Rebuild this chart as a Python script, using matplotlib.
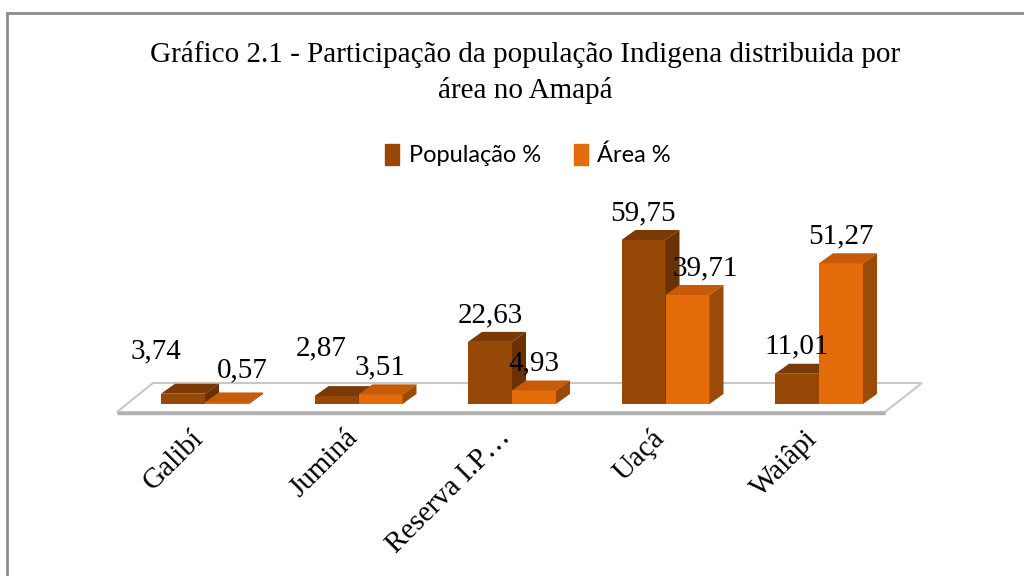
import matplotlib
matplotlib.use('Agg')
from matplotlib import pyplot as plt
from matplotlib.patches import Polygon, Rectangle
import numpy as np

categories = ['Galibí', 'Juminá', 'Reserva I.P…', 'Uaçá', 'Waiâpi']
populacao = [3.74, 2.87, 22.63, 59.75, 11.01]
area = [0.57, 3.51, 4.93, 39.71, 51.27]
series_names = ['População %', 'Área %']

# label nudges in pixels (dx, dy) - Excel moved some to avoid overlaps
pop_nudge = [(-27, 15), (-15, 21), (0, 0), (0, 0), (0, 0)]
area_nudge = [(15, 5), (0, 0), (0, 0), (18, 0), (0, 0)]

pop_colors = ('#974806', '#7a3905', '#6a3104')   # front, top, side
area_colors = ('#e46c0a', '#c55a09', '#9c4a08')

W, H = 1024, 576
fig = plt.figure(figsize=(W / 100, H / 100), dpi=100)

# axes placed so 1 x-unit = 153.5 px, 1 % = 2.745 px
px_x, px_y = 153.5, 2.745
xmin, xmax, ymin, ymax = -0.6, 4.7, -5, 70
left = 205 + xmin * px_x
bottom = H - (404 - ymin * px_y)
ax = fig.add_axes([left / W, bottom / H, (xmax - xmin) * px_x / W, (ymax - ymin) * px_y / H])
ax.set_xlim(xmin, xmax)
ax.set_ylim(ymin, ymax)
ax.axis('off')

dx = 14 / px_x
dy = 10 / px_y
w = 44 / px_x
x = np.arange(len(categories))

# floor
floor = Polygon([(-0.573, -2.9), (4.43, -2.9), (4.67, 7.65), (-0.339, 7.65)],
                closed=True, facecolor='white', edgecolor='#c8c8c8', lw=1.5, zorder=1)
ax.add_patch(floor)
ax.plot([-0.573, 4.43], [-3.3, -3.3], color='#b0b0b0', lw=2.5, zorder=1, solid_capstyle='butt')


def bar3d(x0, v, cols, z):
    x1 = x0 + w
    ax.bar(x0, v, w, align='edge', color=cols[0], zorder=z)
    ax.add_patch(Polygon([(x0, v), (x0 + dx, v + dy), (x1 + dx, v + dy), (x1, v)],
                         closed=True, facecolor=cols[1], edgecolor='none', zorder=z))
    ax.add_patch(Polygon([(x1, 0), (x1, v), (x1 + dx, v + dy), (x1 + dx, dy)],
                         closed=True, facecolor=cols[2], edgecolor='none', zorder=z))


for i in range(len(categories)):
    bar3d(x[i] - w, populacao[i], pop_colors, 3 + 2 * i)
    bar3d(x[i], area[i], area_colors, 4 + 2 * i)

lab_font = dict(family='Liberation Serif', fontsize=21)
for i in range(len(categories)):
    for v, xc, nd in ((populacao[i], x[i] - w / 2, pop_nudge[i]), (area[i], x[i] + w / 2, area_nudge[i])):
        ax.annotate(f'{v:.2f}'.replace('.', ','), xy=(xc, v),
                    xytext=(nd[0] * 0.72, (27 + nd[1]) * 0.72), textcoords='offset points',
                    ha='center', va='center', zorder=20, **lab_font)

for i, c in enumerate(categories):
    ax.annotate(c, xy=(x[i], ymin), xytext=(3, -7 * 0.72), textcoords='offset points',
                rotation=45, ha='right', va='top', **lab_font)

# title
fig.text(525 / W, 1 - 55 / H, 'Gráfico 2.1 - Participação da população Indigena distribuida por',
         ha='center', va='center', family='Liberation Serif', fontsize=21)
fig.text(525 / W, 1 - 91 / H, 'área no Amapá',
         ha='center', va='center', family='Liberation Serif', fontsize=21)

# legend
handles = [Rectangle((0, 0), 1, 1, color=pop_colors[0]), Rectangle((0, 0), 1, 1, color=area_colors[0])]
fig.legend(handles, series_names, loc='center', bbox_to_anchor=(528 / W, 1 - 155 / H), ncol=2,
           frameon=False, handlelength=0.6, handleheight=1.0, handletextpad=0.4,
           columnspacing=1.4, prop=dict(family='Lato', size=17))

# outer frame
fig.patches.append(Rectangle((7 / W, -0.1), 1.2, 1 - 13 / H + 0.1, transform=fig.transFigure,
                             fill=False, edgecolor='#8c8c8c', lw=2))

plt.savefig('out.png', dpi=100)
